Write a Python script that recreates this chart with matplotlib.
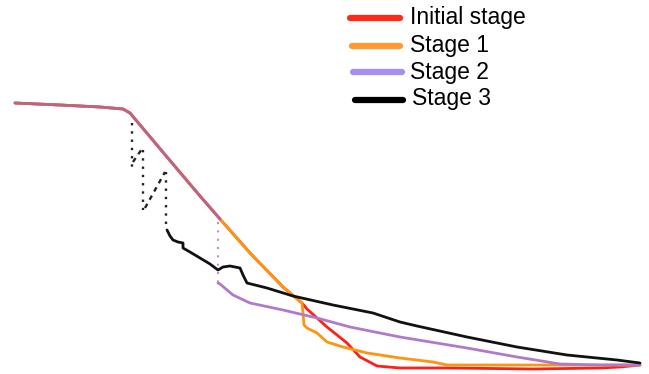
import matplotlib
matplotlib.use("Agg")
import matplotlib.pyplot as plt
from matplotlib.lines import Line2D

# Shared early trajectory (all stages coincide here)
common_x = [15, 60, 100, 123, 130, 167, 200, 220]
common_y = [103, 105, 107, 109, 113, 157, 196, 219]

# Initial stage continues the steep descent, then flattens out
init_x = [250, 283, 302, 307, 327, 347, 360, 377, 400, 450, 533, 600, 620, 640]
init_y = [253, 287, 303, 309, 327, 343, 357, 366, 368, 368, 369, 368, 367, 365]

# Stage 1 splits from the initial path lower down
s1_x = [250, 283, 302, 303, 304, 307, 317, 327, 343, 367, 400, 433, 447, 500, 640]
s1_y = [253, 287, 303, 313, 325, 328, 333, 342, 347, 353, 358, 362, 365, 365, 365]

# Stage 2 drops at one point, then decays slowly
s2_jump_x = [218, 218]
s2_jump_y = [222, 283]
s2_x = [218, 220, 233, 250, 283, 317, 350, 400, 467, 517, 560, 600, 640]
s2_y = [283, 284, 295, 303, 310, 318, 327, 337, 348, 357, 364, 365, 365]

# Stage 3 has several early drops followed by a slower decay
s3_drops = [([132, 132], [123, 172]), ([143, 143], [150, 210]), ([166, 166], [172, 228])]
s3_pieces = [([133, 137, 142], [162, 156, 149]), ([145, 155, 165], [208, 190, 172])]
s3_x = [167, 170, 173, 178, 183, 183, 190, 200, 210, 218, 223, 230, 240, 243, 247, 267,
        293, 333, 373, 400, 417, 467, 517, 567, 617, 640]
s3_y = [230, 236, 240, 242, 243, 248, 252, 258, 264, 270, 267, 266, 268, 275, 283, 288,
        296, 305, 313, 322, 326, 337, 347, 355, 360, 363]

labels = ["Initial stage", "Stage 1", "Stage 2", "Stage 3"]
legend_colors = ["#ff2a1a", "#ff9a2e", "#a78ef2", "#000000"]

RED = "#ff1f1a"
ORANGE = "#ff9410"
PURPLE = "#b07ac8"

fig = plt.figure(figsize=(6.49, 3.74), dpi=100)
ax = fig.add_axes([0, 0, 1, 1])
ax.set_xlim(0, 649)
ax.set_ylim(374, 0)
ax.axis("off")

lw = 2.0
ax.plot(common_x + init_x, common_y + init_y, color=RED, lw=lw, solid_capstyle="round")
ax.plot(common_x + s1_x, common_y + s1_y, color=ORANGE, lw=lw, solid_capstyle="round")
ax.plot(common_x, common_y, color="#a85aa8", lw=lw, alpha=0.8, solid_capstyle="round")
ax.plot(s2_jump_x, s2_jump_y, color="#c58ac8", lw=1.5, ls=(0, (1, 3)))
ax.plot(s2_x, s2_y, color=PURPLE, lw=lw, solid_capstyle="round")

for dx, dy in s3_drops:
    ax.plot(dx, dy, color="#222222", lw=1.7, ls=(0, (1, 2.5)))
for px, py in s3_pieces:
    ax.plot(px, py, color="#222222", lw=1.7, ls=(0, (2, 2)))
ax.plot(s3_x, s3_y, color="#111111", lw=lw, solid_capstyle="round")

# Legend entries
line_y = [18, 46, 72, 100]
line_x = [(350, 400), (352, 400), (353, 402), (355, 403)]
text_x = [410, 410, 410, 412]
text_y = [17, 45, 72, 98]
for ly, (x0, x1), tx, ty, lab, col in zip(line_y, line_x, text_x, text_y,
                                          labels, legend_colors):
    ax.add_line(Line2D([x0, x1], [ly, ly], color=col, lw=4.5, solid_capstyle="round"))
    ax.text(tx, ty, lab, fontsize=16.5, family="Liberation Sans", va="center", ha="left")

fig.savefig("out.png", dpi=100)
